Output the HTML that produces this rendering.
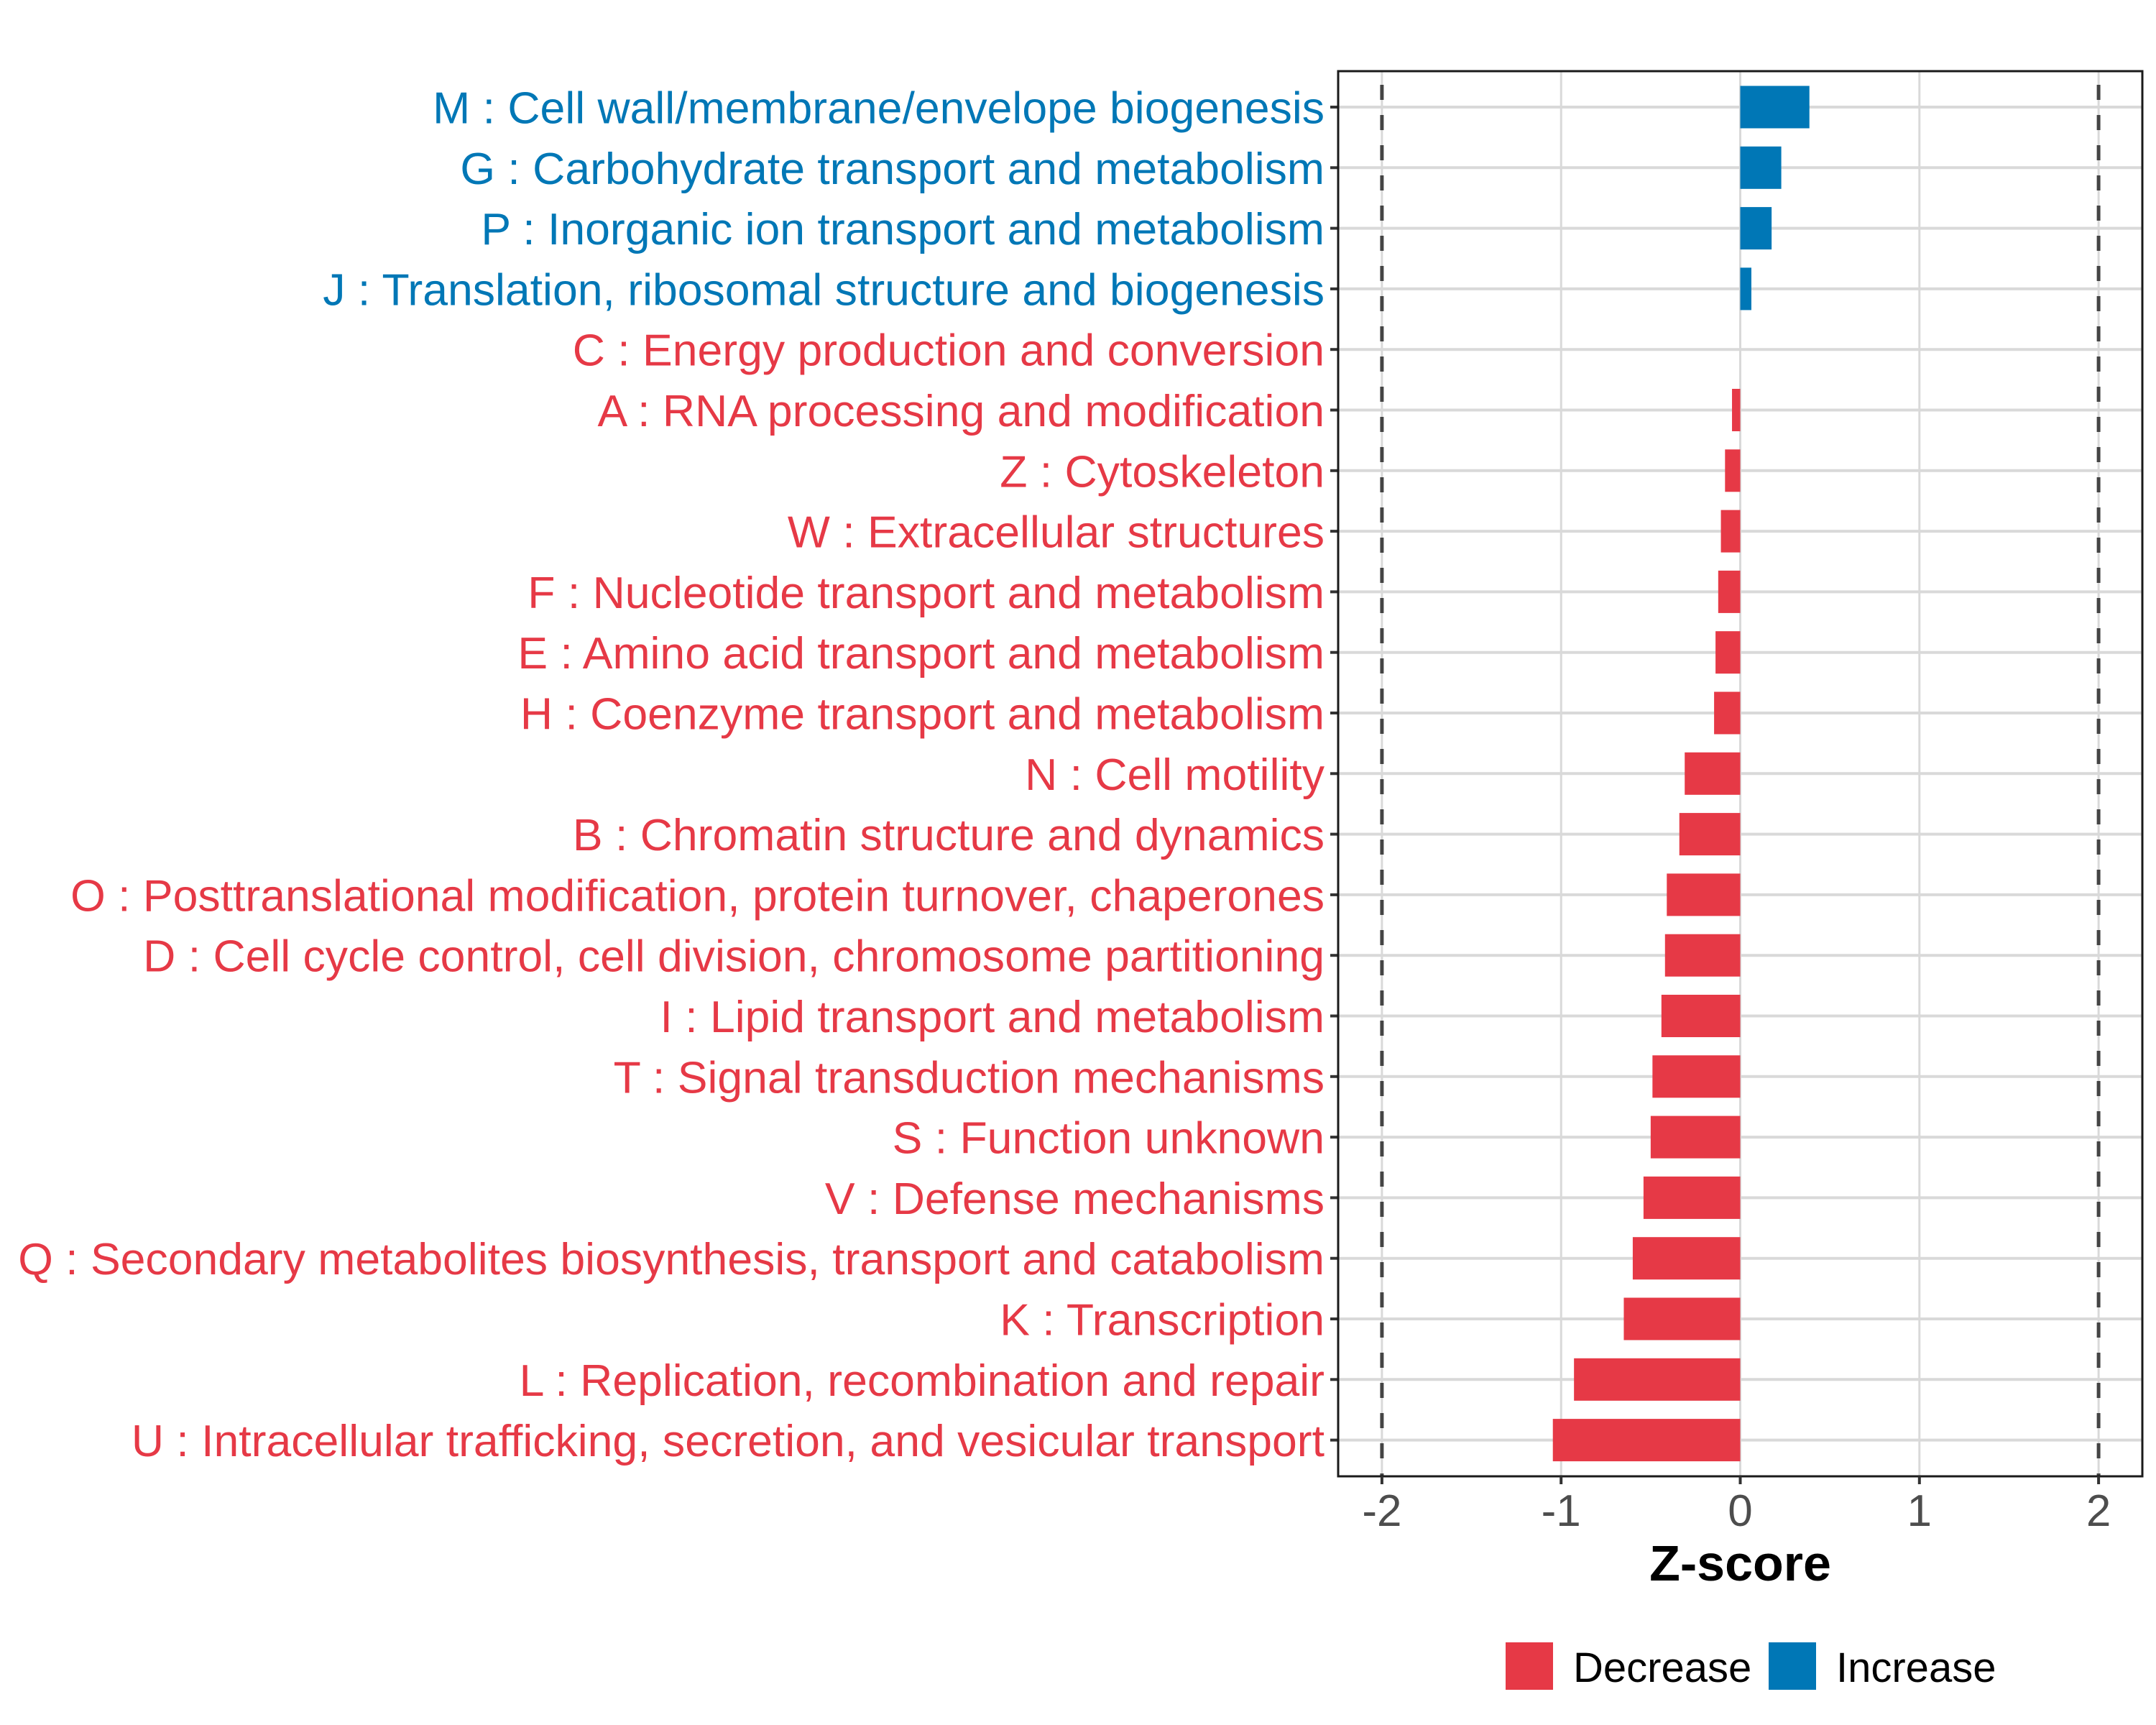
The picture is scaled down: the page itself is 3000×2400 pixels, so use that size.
<!DOCTYPE html>
<html><head><meta charset="utf-8"><style>html,body{margin:0;padding:0;background:#fff}svg{display:block}</style></head>
<body>
<svg id="chart" xmlns="http://www.w3.org/2000/svg" width="3000" height="2400" viewBox="0 0 3000 2400">
<rect width="3000" height="2400" fill="#fff"/>
<g id="grid"></g>
<g id="bars"></g>
<g id="ylabels"></g>
<g id="xaxis"></g>
</svg>
<script>
const categories = [
"M : Cell wall/membrane/envelope biogenesis",
"G : Carbohydrate transport and metabolism",
"P : Inorganic ion transport and metabolism",
"J : Translation, ribosomal structure and biogenesis",
"C : Energy production and conversion",
"A : RNA processing and modification",
"Z : Cytoskeleton",
"W : Extracellular structures",
"F : Nucleotide transport and metabolism",
"E : Amino acid transport and metabolism",
"H : Coenzyme transport and metabolism",
"N : Cell motility",
"B : Chromatin structure and dynamics",
"O : Posttranslational modification, protein turnover, chaperones",
"D : Cell cycle control, cell division, chromosome partitioning",
"I : Lipid transport and metabolism",
"T : Signal transduction mechanisms",
"S : Function unknown",
"V : Defense mechanisms",
"Q : Secondary metabolites biosynthesis, transport and catabolism",
"K : Transcription",
"L : Replication, recombination and repair",
"U : Intracellular trafficking, secretion, and vesicular transport"];
const zscores = [0.386,0.229,0.175,0.062,0,-0.046,-0.085,-0.108,-0.123,-0.138,-0.146,-0.31,-0.34,-0.41,-0.42,-0.44,-0.49,-0.50,-0.54,-0.60,-0.65,-0.928,-1.046];
const xTicks = [-2,-1,0,1,2];
const xTickLabels = ["-2","-1","0","1","2"];
const thresholds = [-2,2];
const legendLabels = ["Decrease","Increase"];

const NS="http://www.w3.org/2000/svg";
const RED="#E63946", BLUE="#0077B6";
const P={l:1862,r:2981,t:99,b:2054};
const X0=2421.5, UNIT=249.3;
const xs=v=>X0+v*UNIT;
const ROW0=149, STEP=84.3;
const ys=i=>ROW0+i*STEP;
function mk(tag,attrs,parent){const e=document.createElementNS(NS,tag);for(const k in attrs)e.setAttribute(k,attrs[k]);parent.appendChild(e);return e;}
const svg=document.getElementById('chart');
const grid=document.getElementById('grid'),bars=document.getElementById('bars'),yl=document.getElementById('ylabels'),xa=document.getElementById('xaxis');

xTicks.forEach(t=>{
  const l=mk('line',{x1:xs(t),x2:xs(t),y1:P.t,y2:P.b,stroke:'#d9d9d9','stroke-width':3},grid);
  
  
});
categories.forEach((c,i)=>{
  const l=mk('line',{x1:P.l,x2:P.r,y1:ys(i),y2:ys(i),stroke:'#d9d9d9','stroke-width':4},grid);
  
  
});
const BH=59;
zscores.forEach((v,i)=>{
  const x1=Math.min(xs(0),xs(v)),w=Math.abs(xs(v)-xs(0));
  const r=mk('rect',{x:x1,y:ys(i)-BH/2,width:w,height:BH,fill:v>0?BLUE:RED},bars);
  
  
});
thresholds.forEach(t=>{
  const l=mk('line',{x1:xs(t),x2:xs(t),y1:P.t,y2:P.b,stroke:'#444','stroke-width':5,'stroke-dasharray':'21 21','stroke-dashoffset':'-19'},bars);
  
  
});
const frame=mk('rect',{x:P.l,y:P.t,width:P.r-P.l,height:P.b-P.t,fill:'none',stroke:'#1a1a1a','stroke-width':3},xa);



categories.forEach((c,i)=>{
  const tk=mk('line',{x1:1851,x2:P.l,y1:ys(i),y2:ys(i),stroke:'#333','stroke-width':4},yl);
  
  
  const tx=mk('text',{x:1843,y:ys(i)+21,'text-anchor':'end','font-family':'"Liberation Sans", Arial, sans-serif','font-size':58,fill:zscores[i]>0?BLUE:RED},yl);
  tx.textContent=c;
  
  
});
const texts=yl.querySelectorAll('text');
const w=texts[19].getBBox().width;
if(w>0){const fs=58*1818/w;texts.forEach(t=>{t.setAttribute('font-size',fs.toFixed(2));t.setAttribute('y',(parseFloat(t.getAttribute('y'))-21+fs*0.36).toFixed(1));});}

xTicks.forEach((t,i)=>{
  const tk=mk('line',{x1:xs(t),x2:xs(t),y1:P.b,y2:P.b+11,stroke:'#333','stroke-width':4},xa);
  
  
  const tx=mk('text',{x:xs(t),y:2123,'text-anchor':'middle','font-family':'"Liberation Sans", Arial, sans-serif','font-size':62,fill:'#4d4d4d'},xa);
  tx.textContent=xTickLabels[i];
  
  
});
const title=mk('text',{x:xs(0),y:2199,'text-anchor':'middle','font-family':'"Liberation Sans", Arial, sans-serif','font-size':70,'font-weight':'bold',fill:'#000'},xa);
title.textContent='Z-score';



const legX=[2095,2461], legTX=[2189,2555], legC=[RED,BLUE];
legendLabels.forEach((lab,i)=>{
  const g=mk('g',{},svg);
  
  
  mk('rect',{x:legX[i],y:2285,width:66,height:66,fill:legC[i]},g);
  const t=mk('text',{x:legTX[i],y:2340,'font-family':'"Liberation Sans", Arial, sans-serif','font-size':58,fill:'#000'},g);
  t.textContent=lab;
});
</script>
</body></html>
